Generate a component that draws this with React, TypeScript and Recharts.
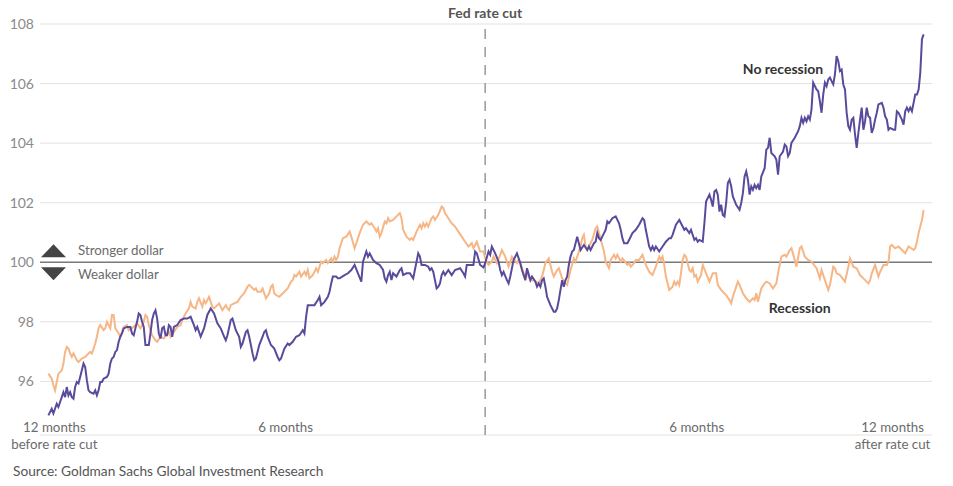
import React from 'react';
import {
  LineChart,
  Line,
  XAxis,
  YAxis,
  CartesianGrid,
  ReferenceLine,
  ReferenceDot,
} from 'recharts';

// business days relative to the Fed rate cut (about 261 per year)
const noRecessionDays = [
  -261, -259, -258, -256, -255, -253, -252, -251, -250, -249, -248, -247, -246, -245, -244, -243, -242, -241, -240, -239,
  -238, -237, -236, -234, -233, -232, -231, -230, -229, -228, -226, -225, -224, -223, -222, -221, -220, -219, -218, -217,
  -216, -214, -212, -211, -210, -209, -208, -207, -206, -205, -204, -203, -201, -200, -199, -198, -197, -196, -195, -194,
  -193, -192, -191, -190, -189, -188, -187, -186, -184, -182, -180, -178,
  -176, -174, -173, -172, -170, -168, -166, -164, -162, -160, -158, -156, -155, -154, -152, -151, -149, -147, -146, -145,
  -143, -142, -141, -139, -138, -137, -135, -133, -132, -131, -130, -128, -126, -124, -123, -122, -120, -118, -117, -115,
  -113, -111, -109, -108, -107, -106, -104, -102, -100, -99, -98, -96, -94, -93, -92, -91, -89, -88,
  -87, -84, -82, -80, -78, -76, -74, -73, -71, -70, -69, -67, -65, -63, -61, -60, -59, -58, -57, -56,
  -55, -53, -51, -50, -49, -47, -45, -43, -42, -41, -40, -39, -38, -36, -34, -33, -32, -31, -30, -29,
  -28, -27, -26, -25, -24, -22, -20, -18, -15, -13, -12, -11, -9, -7, -6, -5,
  -3, -1, 0, 2, 3, 4, 6, 8, 9, 10, 11, 13, 14, 15, 17, 19, 21, 22, 24, 25,
  27, 28, 30, 31, 32, 33, 34, 35, 36, 37, 39, 41, 42, 43, 44, 45, 46, 47, 48, 49,
  50, 51, 52, 53, 55, 57, 59, 61, 62, 63, 65, 66, 67, 68, 69, 71, 72, 73, 74, 76,
  78, 80, 81, 82, 83, 85,
  86, 88, 90, 92, 94, 95, 96, 97, 98, 99, 100, 101, 102, 104, 106, 108, 110, 111, 112, 114,
  116, 118, 119, 120, 122, 123, 125, 126, 127, 128, 130, 131, 132, 134, 135, 136, 137, 138, 139, 140,
  141, 142, 143, 144, 145, 146, 147, 148, 150, 152, 153, 154, 155, 156, 157, 158, 159, 160, 161, 162,
  163, 164, 165, 167, 168, 169,
  170, 171, 173, 174, 175, 176, 178, 179, 180, 181, 182, 183, 185, 187, 188, 189, 190, 191, 192, 193,
  194, 195, 196, 198, 199, 200, 201, 202, 203, 204, 205, 206, 207, 208, 209, 210, 211, 212, 213, 214,
  215, 216, 217, 218, 219, 220, 221, 222, 223, 224, 225, 226, 227, 228, 229, 230, 231, 232, 233, 234,
  235, 237, 238, 239, 240, 241, 242, 244, 245, 246, 247, 249, 250, 251, 252, 253, 254, 255, 256, 257,
  258, 259, 260, 261, 262,
];

const noRecessionValues = [
  94.86, 95.08, 94.92, 95.25, 95.14, 95.47, 95.64, 95.47, 95.81, 95.53, 95.64, 95.47, 95.42, 95.81, 95.98, 95.93, 96.15, 96.37, 96.6, 96.48,
  96.04, 95.7, 95.64, 95.59, 95.7, 95.53, 95.7, 95.98, 95.98, 96.09, 96.15, 96.26, 96.6, 96.77, 96.82, 96.99, 97.05, 97.33, 97.5, 97.61,
  97.78, 97.83, 97.83, 97.61, 97.55, 97.78, 98.0, 98.28, 98.23, 98.0, 97.83, 97.22, 97.22, 97.61, 98.06, 98.28, 98.39, 98.11, 97.61, 97.44,
  97.78, 97.83, 97.55, 97.55, 97.89, 97.83, 97.5, 97.83, 97.89, 98.06, 98.11, 98.11,
  98.17, 97.89, 97.72, 97.83, 97.5, 97.78, 98.23, 98.45, 98.28, 97.95, 97.78, 97.5, 97.38, 97.55, 98.06, 98.11, 97.72, 97.5, 97.16, 97.27,
  97.66, 97.72, 97.5, 96.94, 96.71, 96.77, 97.22, 97.5, 97.66, 97.72, 97.5, 97.22, 97.1, 96.82, 96.71, 96.77, 97.1, 97.27, 97.22, 97.33,
  97.5, 97.55, 97.72, 97.61, 98.17, 98.56, 98.56, 98.56, 98.73, 98.84, 98.56, 98.67, 98.84, 99.01, 99.29, 99.52, 99.52, 99.46,
  99.46, 99.57, 99.63, 99.74, 99.91, 99.63, 99.35, 100.02, 100.36, 100.19, 100.3, 100.08, 99.97, 99.91, 99.74, 99.46, 99.35, 99.57, 99.68, 99.4,
  99.63, 99.52, 99.74, 99.8, 99.57, 99.63, 99.63, 99.46, 99.74, 100.02, 100.3, 100.19, 99.91, 99.91, 99.85, 99.74, 99.8, 99.68, 99.4, 99.12,
  99.18, 99.29, 99.57, 99.68, 99.57, 99.74, 99.57, 99.74, 99.8, 99.63, 99.52, 99.91, 99.91, 99.91, 100.36, 100.3,
  99.91, 99.83, 99.97, 100.36, 100.25, 100.53, 100.3, 100.02, 99.74, 99.57, 99.68, 99.4, 99.29, 99.52, 100.08, 100.3, 99.97, 99.74, 99.4, 99.8,
  99.4, 99.52, 99.35, 99.18, 99.29, 99.18, 99.4, 99.46, 99.18, 98.84, 98.56, 98.34, 98.34, 98.45, 98.73, 99.07, 99.4, 99.18, 99.4, 99.52,
  99.91, 100.19, 100.36, 100.41, 100.86, 100.41, 100.58, 100.41, 100.53, 100.41, 100.64, 100.69, 100.98, 100.81, 100.75, 100.98, 101.09, 101.37, 101.31, 101.48,
  101.54, 101.31, 101.09, 100.81, 100.64, 100.64,
  100.75, 100.98, 101.09, 101.26, 101.48, 101.42, 101.09, 100.81, 100.53, 100.41, 100.53, 100.41, 100.53, 100.36, 100.53, 100.69, 100.81, 100.81, 100.92, 101.26,
  101.42, 101.2, 101.09, 101.14, 100.98, 101.09, 100.75, 100.81, 100.69, 100.75, 100.69, 101.31, 102.04, 102.27, 102.1, 101.87, 102.38, 102.43, 102.27, 101.7,
  101.93, 101.59, 101.54, 101.99, 102.66, 102.77, 102.55, 102.21, 101.93, 101.76, 101.99, 102.32, 102.88, 103.05, 102.77, 102.27, 102.55, 102.43, 102.6, 102.49,
  102.6, 102.43, 102.88, 103.16, 103.78, 103.84,
  104.18, 103.67, 103.56, 103.44, 102.94, 103.56, 103.72, 103.95, 103.89, 103.56, 103.67, 104.01, 104.18, 104.4, 104.57, 104.85, 104.68, 104.85, 104.73, 104.9,
  104.79, 105.13, 106.03, 105.8, 105.74, 105.41, 105.02, 105.63, 106.03, 105.91, 106.14, 106.2, 106.08, 105.97, 106.31, 106.92, 106.75, 106.42, 106.47, 105.97,
  105.8, 105.02, 104.57, 104.45, 104.79, 104.85, 104.29, 103.84, 104.34, 104.79, 105.19, 104.45, 104.73, 105.19, 104.9, 104.85, 104.34, 104.51, 104.79, 105.02,
  105.3, 105.35, 105.19, 104.9, 104.79, 104.45, 104.51, 104.45, 104.45, 105.07, 105.02, 104.79, 104.62, 105.07, 105.19, 105.07, 105.19, 105.07, 105.35, 105.63,
  105.63, 105.8, 106.36, 107.49, 107.65,
];

const recessionDays = [
  -261, -259, -258, -257, -256, -255, -253, -252, -251, -250, -249, -248, -247, -246, -244, -243, -241, -239, -237, -236,
  -235, -234, -233, -232, -231, -230, -228, -227, -226, -224, -223, -222, -221, -219, -218, -216, -214, -213, -210, -208,
  -206, -204, -203, -202, -201, -199, -197, -196, -194, -192, -190, -189, -188, -186, -184, -182, -181, -179, -177,
  -176, -175, -173, -172, -171, -169, -168, -167, -165, -163, -162, -159, -157, -155, -154, -153, -152, -150, -148, -146,
  -144, -142, -141, -138, -137, -136, -134, -133, -131, -129, -128, -127, -126, -125, -123, -120, -118, -116, -115, -114,
  -113, -111, -110, -108, -107, -106, -105, -103, -101, -100, -98, -97, -95, -94, -92, -91, -90, -89, -88,
  -87, -85, -83, -81, -80, -78, -77, -75, -73, -71, -69, -68, -66, -65, -64, -63, -62, -60, -59, -58,
  -57, -55, -53, -51, -50, -49, -47, -45, -44, -43, -41, -39, -38, -37, -36, -35, -34, -32, -31, -30,
  -28, -26, -25, -24, -22, -20, -18, -16, -14, -12, -10, -8, -7, -5,
  -3, -1, 0, 2, 4, 5, 7, 9, 10, 12, 14, 16, 19, 20, 22, 24, 25, 27, 29, 32,
  34, 36, 38, 40, 41, 43, 44, 46, 48, 49, 51, 53, 54, 56, 57, 58, 59, 60, 61, 63,
  64, 66, 67, 68, 70, 71, 72, 74, 75, 77, 78, 79, 81, 82, 85,
  86, 87, 89, 90, 92, 94, 96, 98, 100, 102, 104, 105, 106, 107, 108, 110, 112, 113, 114, 115,
  116, 117, 118, 119, 120, 122, 123, 124, 125, 126, 127, 129, 130, 132, 134, 136, 138, 139, 141, 142,
  144, 146, 147, 148, 150, 151, 152, 154, 156, 158, 160, 161, 162, 163, 165, 167, 168,
  170, 172, 174, 175, 177, 179, 180, 182, 183, 185, 186, 188, 189, 191, 193, 195, 198, 200, 201, 202,
  205, 206, 208, 209, 210, 212, 215, 217, 218, 220, 222, 224, 226, 229, 230, 231, 233, 235, 236, 238,
  240, 241, 242, 243, 245, 247, 250, 251, 253, 256, 257, 258, 259, 260, 261, 262,
];

const recessionValues = [
  96.26, 96.09, 95.87, 95.7, 95.98, 96.26, 96.37, 96.6, 96.99, 97.16, 97.1, 96.94, 96.82, 96.94, 96.71, 96.65, 96.77, 96.82, 96.94, 96.99,
  96.94, 97.1, 97.27, 97.5, 97.78, 97.89, 97.72, 97.78, 98.0, 97.78, 98.23, 98.23, 97.78, 97.61, 97.5, 97.83, 97.89, 97.72, 97.83, 97.95,
  97.78, 98.0, 98.23, 98.17, 97.89, 97.55, 97.38, 97.33, 97.5, 97.44, 97.61, 97.66, 97.5, 97.66, 97.83, 97.89, 98.06, 98.28, 98.45,
  98.67, 98.51, 98.45, 98.67, 98.79, 98.51, 98.73, 98.62, 98.84, 98.51, 98.45, 98.62, 98.39, 98.56, 98.45, 98.39, 98.56, 98.62, 98.67, 98.84,
  98.96, 99.18, 99.24, 99.07, 99.12, 99.01, 99.01, 99.12, 98.79, 98.96, 99.18, 99.24, 98.96, 98.9, 98.84, 99.01, 99.12, 99.35, 99.4, 99.57,
  99.52, 99.68, 99.52, 99.68, 99.57, 99.74, 99.46, 99.57, 99.8, 99.68, 100.02, 99.97, 100.08, 99.97, 100.13, 100.02, 100.19, 100.08, 100.19,
  100.47, 100.81, 100.86, 101.03, 100.86, 100.47, 100.64, 100.98, 101.26, 101.37, 101.26, 101.31, 101.14, 101.03, 101.14, 100.86, 100.98, 101.37, 101.31, 101.48,
  101.37, 101.42, 101.54, 101.65, 101.48, 101.09, 100.86, 100.75, 100.81, 100.75, 101.03, 101.26, 101.14, 101.31, 101.2, 101.31, 101.2, 101.48, 101.54, 101.42,
  101.59, 101.87, 101.82, 101.65, 101.48, 101.31, 101.2, 101.03, 100.86, 100.69, 100.53, 100.64, 100.47, 100.69,
  100.36, 100.36, 100.13, 99.91, 100.02, 100.19, 99.97, 100.25, 100.41, 100.19, 99.85, 100.19, 99.97, 100.08, 99.8, 99.46, 99.63, 99.4, 99.4, 99.29,
  99.52, 99.97, 100.13, 99.68, 99.52, 99.74, 99.8, 99.46, 99.29, 99.24, 99.74, 100.13, 100.02, 100.36, 100.53, 100.81, 100.92, 100.53, 100.41, 100.64,
  100.75, 101.14, 101.2, 100.98, 100.58, 100.36, 100.02, 99.8, 100.08, 100.25, 100.13, 100.25, 100.02, 100.13, 99.91,
  99.97, 99.85, 99.97, 100.08, 100.08, 100.25, 99.91, 99.68, 99.57, 99.85, 100.19, 100.08, 100.19, 99.91, 99.52, 99.07, 99.18, 99.35, 99.24, 99.35,
  99.24, 99.63, 100.08, 100.25, 100.19, 99.74, 99.68, 99.8, 99.52, 99.57, 99.35, 99.57, 99.91, 99.63, 99.35, 99.63, 99.63, 99.24, 99.07, 99.01,
  98.9, 98.73, 98.62, 98.84, 99.18, 99.35, 99.24, 98.96, 98.79, 98.67, 98.79, 98.73, 98.96, 98.67, 99.12, 99.29, 99.35,
  99.29, 99.12, 99.29, 99.63, 100.19, 100.25, 100.19, 100.41, 100.47, 100.08, 99.85, 100.47, 100.53, 100.19, 100.08, 100.02, 99.8, 99.46, 99.74, 99.57,
  99.07, 99.24, 99.85, 99.8, 99.63, 99.57, 99.35, 99.85, 100.13, 99.85, 99.8, 99.57, 99.46, 99.29, 99.4, 99.63, 99.91, 99.52, 99.68, 99.91,
  99.91, 100.02, 100.53, 100.58, 100.47, 100.53, 100.36, 100.3, 100.53, 100.41, 100.47, 100.69, 100.98, 101.2, 101.42, 101.76,
];

const yTicks = [96, 98, 100, 102, 104, 106, 108];
const xTicks = [-261, -130, 130, 262];
const xTickLabels: Record<number, string[]> = {
  [-261]: ['12 months', 'before rate cut'],
  [-130]: ['6 months'],
  [130]: ['6 months'],
  [262]: ['12 months', 'after rate cut'],
};
// small nudges so the labels sit where the original puts them
const xTickShift: Record<number, number> = { [-261]: 6, [-130]: 18, [130]: -6, [262]: -31 };

const FONT = 'Lato, "Open Sans", sans-serif';

const noRecession = noRecessionDays.map((d, i) => ({ day: d, value: noRecessionValues[i] }));
const recession = recessionDays.map((d, i) => ({ day: d, value: recessionValues[i] }));

function MonthTick(props: any) {
  const { x, y, payload } = props;
  const lines = xTickLabels[payload.value] || [];
  const shift = xTickShift[payload.value] || 0;
  return (
    <g>
      {lines.map((line, i) => (
        <text
          key={i}
          x={x + shift}
          y={y - 3 + i * 16.5}
          textAnchor="middle"
          fill="#6b6b6b"
          fontSize={13.3}
          fontFamily={FONT}
        >
          {line}
        </text>
      ))}
    </g>
  );
}

function DollarLabels(props: any) {
  const vb = props.viewBox || {};
  const x = vb.x ?? 40;
  const y = vb.y ?? 262;
  return (
    <g>
      <polygon points={`${x + 1},${y - 5} ${x + 26},${y - 5} ${x + 13.5},${y - 18}`} fill="#444" />
      <polygon points={`${x + 1},${y + 5} ${x + 26},${y + 5} ${x + 13.5},${y + 18}`} fill="#444" />
      <text x={x + 38} y={y - 7} fill="#6b6b6b" fontSize={13.3} fontFamily={FONT}>
        Stronger dollar
      </text>
      <text x={x + 38} y={y + 16.5} fill="#6b6b6b" fontSize={13.3} fontFamily={FONT}>
        Weaker dollar
      </text>
    </g>
  );
}

export default function App() {
  return (
    <div
      style={{
        position: 'absolute',
        left: 0,
        top: 0,
        width: 953,
        height: 486,
        background: '#fff',
        fontFamily: FONT,
      }}
    >
      <LineChart
        width={953}
        height={486}
        margin={{ top: 24, right: 21, left: 8, bottom: 31 }}
      >
        <CartesianGrid horizontal vertical={false} stroke="#e2e2e2" strokeWidth={1} />
        <XAxis
          dataKey="day"
          type="number"
          domain={[-266, 267]}
          ticks={xTicks}
          allowDataOverflow
          axisLine={false}
          tickLine={false}
          tickSize={0}
          tickMargin={0}
          height={20}
          interval={0}
          tick={<MonthTick />}
        />
        <YAxis
          type="number"
          domain={[94.2, 108]}
          ticks={yTicks}
          allowDataOverflow
          axisLine={false}
          tickLine={false}
          tickSize={6}
          tickMargin={0}
          width={32}
          tick={{ fill: '#8a8a8a', fontSize: 14, fontFamily: FONT }}
        />
        <ReferenceLine
          y={100}
          stroke="#7a7a7a"
          strokeWidth={1.6}
          label={<DollarLabels />}
        />
        <ReferenceLine
          x={0}
          stroke="#9a9a9a"
          strokeWidth={1.5}
          strokeDasharray="10 8"
          label={{
            value: 'Fed rate cut',
            position: 'top',
            offset: 6,
            fill: '#555',
            fontSize: 14,
            fontWeight: 700,
            fontFamily: FONT,
          }}
        />
        <Line
          data={recession}
          dataKey="value"
          type="linear"
          stroke="#f6b685"
          strokeWidth={2}
          dot={false}
          activeDot={false}
          isAnimationActive={false}
        />
        <Line
          data={noRecession}
          dataKey="value"
          type="linear"
          stroke="#5a4a9c"
          strokeWidth={2}
          dot={false}
          activeDot={false}
          isAnimationActive={false}
        />
        <ReferenceDot
          x={178}
          y={106.5}
          r={0}
          fill="none"
          stroke="none"
          label={{
            value: 'No recession',
            position: 'center',
            fill: '#333',
            fontSize: 14,
            fontWeight: 700,
            fontFamily: FONT,
          }}
        />
        <ReferenceDot
          x={188}
          y={98.46}
          r={0}
          fill="none"
          stroke="none"
          label={{
            value: 'Recession',
            position: 'center',
            fill: '#333',
            fontSize: 14,
            fontWeight: 700,
            fontFamily: FONT,
          }}
        />
      </LineChart>
      <div
        style={{
          position: 'absolute',
          left: 13,
          top: 462,
          fontSize: 13.7,
          color: '#555',
          fontFamily: FONT,
          whiteSpace: 'nowrap',
        }}
      >
        Source: Goldman Sachs Global Investment Research
      </div>
    </div>
  );
}
